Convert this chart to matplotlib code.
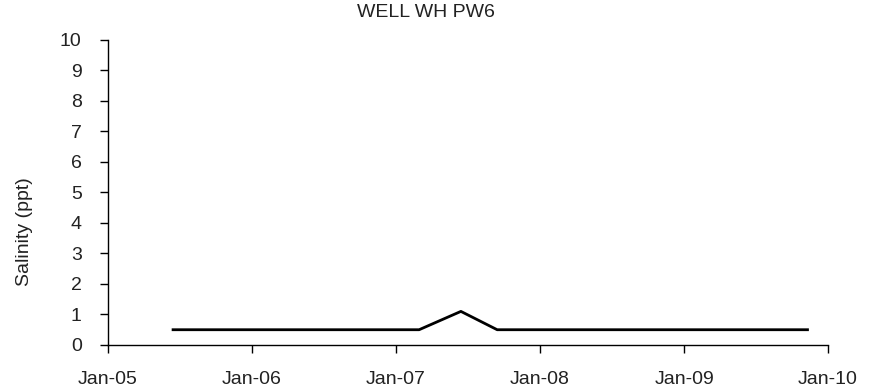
import numpy as np
import matplotlib
matplotlib.use('Agg')
import matplotlib.pyplot as plt
import matplotlib.dates as mdates
import pandas as pd

plt.rcParams['font.family'] = ['Liberation Sans', 'DejaVu Sans']

# sample dates and salinity
dates = pd.to_datetime(['2005-06-15', '2007-03-01', '2007-06-15', '2007-09-15', '2009-11-10'])
salinity = [0.5, 0.5, 1.1, 0.5, 0.5]

xticks = pd.to_datetime(['2005-01-01', '2006-01-01', '2007-01-01', '2008-01-01', '2009-01-01', '2010-01-01'])
yticks = list(range(0, 11))

fig = plt.figure(figsize=(8.69, 3.92), dpi=100)
ax = fig.add_axes([0.1243, 0.1199, 0.8285, 0.7793])

ax.plot(dates, salinity, color='black', linewidth=2)

ax.set_xlim(xticks[0], xticks[-1])
ax.set_ylim(0, 10)
ax.set_xticks(xticks)
ax.xaxis.set_major_formatter(mdates.DateFormatter('%b-%y'))
ax.set_yticks(yticks)

for s in ['top', 'right']:
    ax.spines[s].set_visible(False)
for s in ['left', 'bottom']:
    ax.spines[s].set_linewidth(1)
    ax.spines[s].set_color('black')

ax.tick_params(axis='both', direction='out', length=6, width=1, labelsize=14,
               pad=13, colors='black', labelcolor='#222222')

ax.set_ylabel('Salinity (ppt)', fontsize=14, color='#222222')
ax.yaxis.set_label_coords(-0.104, 0.37)

fig.suptitle('WELL WH PW6', x=0.49, y=0.99, fontsize=14, color='#222222')

fig.savefig('out.png', dpi=100)
